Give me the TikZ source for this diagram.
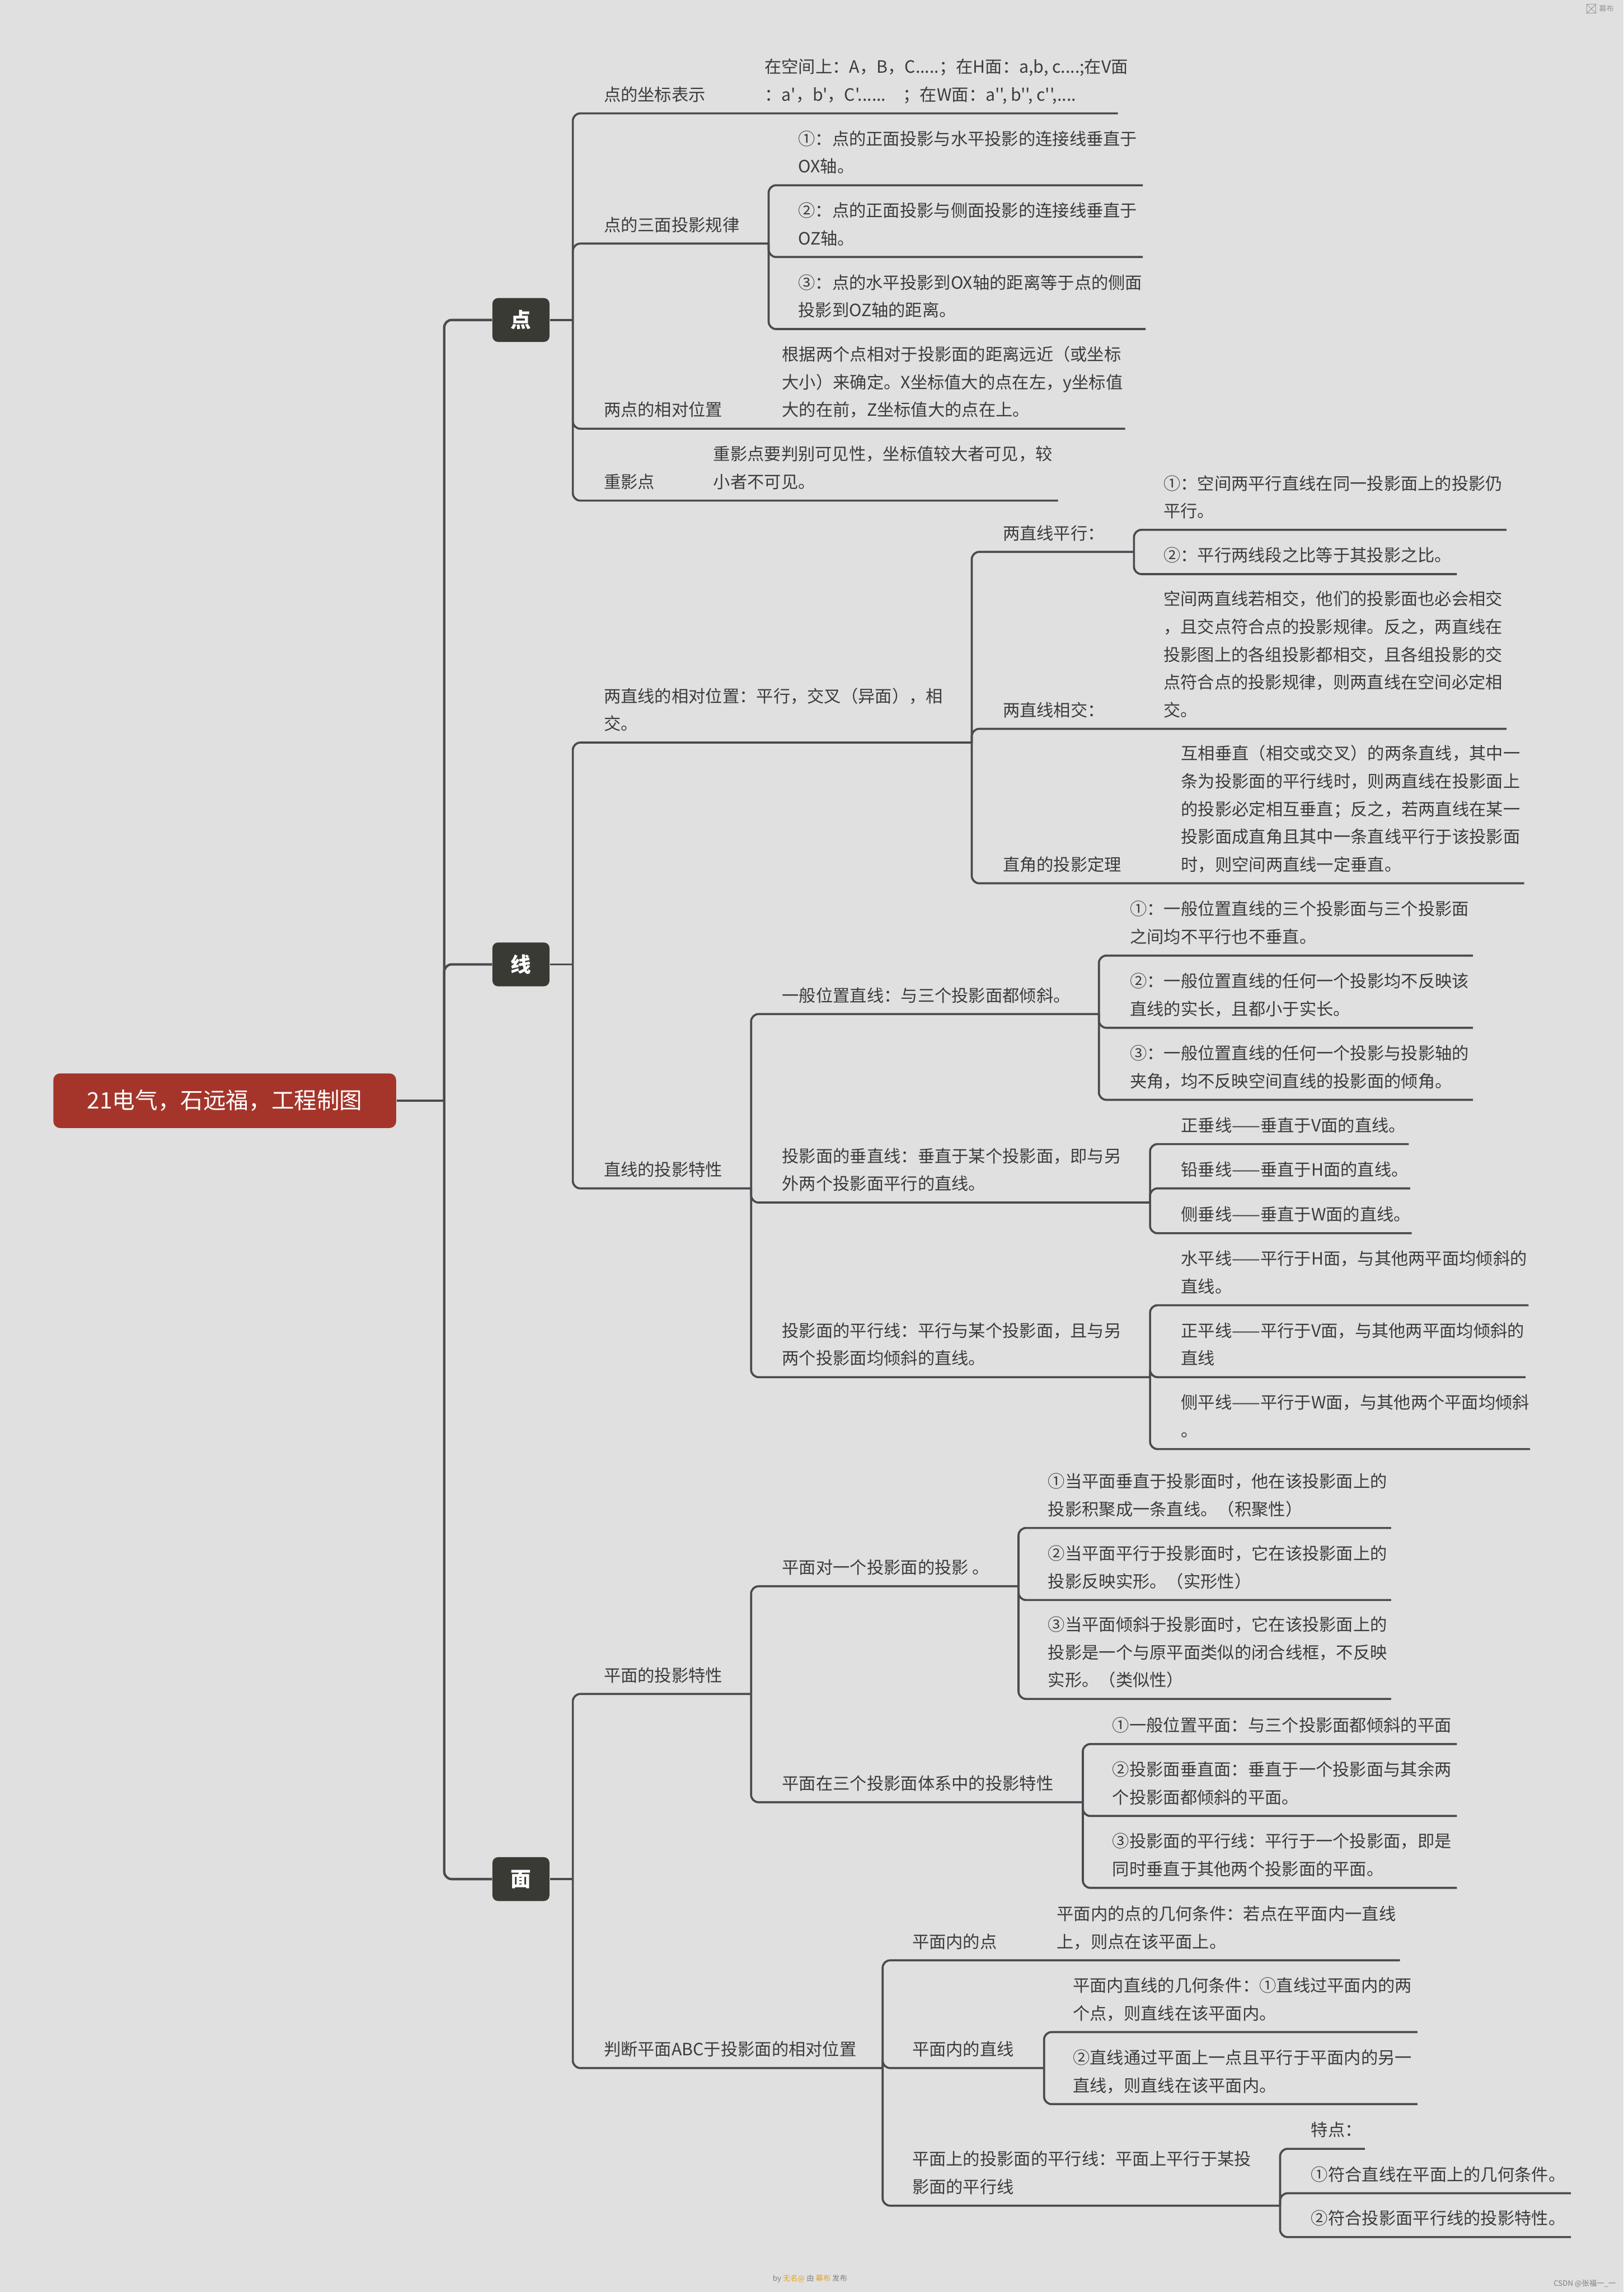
\documentclass[tikz,border=0pt]{standalone}
\usepackage{fontspec}
\newfontfamily\cjk{Noto Sans CJK SC}
\definecolor{bg}{HTML}{E0E0E0}
\definecolor{ln}{HTML}{4A4A4F}
\definecolor{tx}{HTML}{3C3C3C}
\definecolor{rootred}{HTML}{A5352A}
\definecolor{boxc}{HTML}{3A3A34}
\definecolor{orng}{HTML}{E8A317}
\newcommand\ml[1]{\vbox{\baselineskip=14.9pt\lineskiplimit=-20pt\halign{##\hfil\cr#1\crcr}}}
\tikzset{
  txt/.style={anchor=base west, inner sep=0pt, text=tx, font=\cjk\fontsize{9.1}{14.9}\selectfont},
  br/.style={draw=ln, line width=1.1pt, rounded corners=4pt},
  trunk/.style={draw=ln, line width=1.3pt, rounded corners=4pt},
  lone/.style={fill=boxc, rounded corners=3pt, text=white, inner sep=0pt,
    minimum width=1.076cm, minimum height=0.827cm, font=\cjk\bfseries\fontsize{11}{13}\selectfont},
  rootbox/.style={fill=rootred, rounded corners=3.6pt, text=white, inner sep=0pt,
    minimum width=6.468cm, minimum height=1.031cm, font=\cjk\fontsize{12.2}{14}\selectfont},
  tiny/.style={inner sep=0pt, text=gray, font=\cjk\fontsize{4}{5}\selectfont},
}
\begin{document}
\begin{tikzpicture}[x=0.02758cm, y=-0.02758cm]
\fill[bg] (0,0) rectangle (1111,1568.6);
\useasboundingbox (0,0) rectangle (1111,1568.6);

% root and level 1
\node[rootbox] (root) at (153.8,753.3) {21电气，石远福，工程制图};
\node[lone] (dian) at (356.5,219) {点};
\node[lone] (xian) at (356.5,660) {线};
\node[lone] (mian) at (356.5,1286) {面};
\coordinate (mt) at (304,753.3);
\draw[trunk] (root.east) -- (mt);
\draw[trunk] (mt) |- (dian.west);
\draw[trunk] (mt) |- (xian.west);
\draw[trunk] (mt) |- (mian.west);

%================ 点
\coordinate (dj) at (392,219);
\draw[br] (dian.east) -- (dj);
% A1
\node[txt] (a1) at (413,69.1) {点的坐标表示};
\node[txt] (a1t) at (523,69.1) {\ml{在空间上：A，B，C.....；在H面：a,b, c....;在V面\cr：a'，b'，C'......　；在W面：a'', b'', c'',....}};
\coordinate (a1e) at (765,77.6);
\draw[br] (dj) |- (a1e);
% A2
\node[txt] (a2) at (413,158.2) {点的三面投影规律};
\coordinate (a2e) at (526,166.7);
\draw[br] (dj) |- (a2e);
\node[txt] (a2a) at (546,118.3) {\ml{①：点的正面投影与水平投影的连接线垂直于\cr OX轴。}};
\coordinate (a2ae) at (782,126.8);
\node[txt] (a2b) at (546,167.4) {\ml{②：点的正面投影与侧面投影的连接线垂直于\cr OZ轴。}};
\coordinate (a2be) at (782,175.9);
\node[txt] (a2c) at (546,216.7) {\ml{③：点的水平投影到OX轴的距离等于点的侧面\cr 投影到OZ轴的距离。}};
\coordinate (a2ce) at (784,225.2);
\draw[br] (a2e) |- (a2ae);
\draw[br] (a2e) |- (a2be);
\draw[br] (a2e) |- (a2ce);
% A3
\node[txt] (a3) at (413,284.9) {两点的相对位置};
\node[txt] (a3t) at (535,284.9) {\ml{根据两个点相对于投影面的距离远近（或坐标\cr 大小）来确定。X坐标值大的点在左，y坐标值\cr 大的在前，Z坐标值大的点在上。}};
\coordinate (a3e) at (770,293.4);
\draw[br] (dj) |- (a3e);
% A4
\node[txt] (a4) at (413,334.1) {重影点};
\node[txt] (a4t) at (488,334.1) {\ml{重影点要判别可见性，坐标值较大者可见，较\cr 小者不可见。}};
\coordinate (a4e) at (724,342.6);
\draw[br] (dj) |- (a4e);

%================ 线
\coordinate (xj) at (392,660);
\draw[br] (xian.east) -- (xj);
% B1
\node[txt] (b1) at (413,499.7) {\ml{两直线的相对位置：平行，交叉（异面），相\cr 交。}};
\coordinate (b1e) at (665,508.2);
\draw[br] (xj) |- (b1e);
\node[txt] (b1a) at (686,369.2) {两直线平行：};
\coordinate (b1ae) at (776,377.7);
\draw[br] (b1e) |- (b1ae);
\node[txt] (b1a1) at (796,354.1) {\ml{①：空间两平行直线在同一投影面上的投影仍\cr 平行。}};
\coordinate (b1a1e) at (1031,362.6);
\node[txt] (b1a2) at (796,384.4) {②：平行两线段之比等于其投影之比。};
\coordinate (b1a2e) at (997,392.9);
\draw[br] (b1ae) |- (b1a1e);
\draw[br] (b1ae) |- (b1a2e);
\node[txt] (b1b) at (686,490.3) {两直线相交：};
\node[txt] (b1bt) at (796,490.3) {\ml{空间两直线若相交，他们的投影面也必会相交\cr ，且交点符合点的投影规律。反之，两直线在\cr 投影图上的各组投影都相交，且各组投影的交\cr 点符合点的投影规律，则两直线在空间必定相\cr 交。}};
\coordinate (b1be) at (1031,498.8);
\draw[br] (b1e) |- (b1be);
\node[txt] (b1c) at (686,596) {直角的投影定理};
\node[txt] (b1ct) at (808,596) {\ml{互相垂直（相交或交叉）的两条直线，其中一\cr 条为投影面的平行线时，则两直线在投影面上\cr 的投影必定相互垂直；反之，若两直线在某一\cr 投影面成直角且其中一条直线平行于该投影面\cr 时，则空间两直线一定垂直。}};
\coordinate (b1ce) at (1043,604.5);
\draw[br] (b1e) |- (b1ce);
% B2
\node[txt] (b2) at (413,804.8) {直线的投影特性};
\coordinate (b2e) at (514,813.3);
\draw[br] (xj) |- (b2e);
\node[txt] (b2a) at (535,685.5) {一般位置直线：与三个投影面都倾斜。};
\coordinate (b2ae) at (752,694);
\draw[br] (b2e) |- (b2ae);
\node[txt] (b2a1) at (773,645.5) {\ml{①：一般位置直线的三个投影面与三个投影面\cr 之间均不平行也不垂直。}};
\coordinate (b2a1e) at (1008,654);
\node[txt] (b2a2) at (773,694.9) {\ml{②：一般位置直线的任何一个投影均不反映该\cr 直线的实长，且都小于实长。}};
\coordinate (b2a2e) at (1008,703.4);
\node[txt] (b2a3) at (773,744.2) {\ml{③：一般位置直线的任何一个投影与投影轴的\cr 夹角，均不反映空间直线的投影面的倾角。}};
\coordinate (b2a3e) at (1008,752.7);
\draw[br] (b2ae) |- (b2a1e);
\draw[br] (b2ae) |- (b2a2e);
\draw[br] (b2ae) |- (b2a3e);
\node[txt] (b2b) at (535,814.5) {\ml{投影面的垂直线：垂直于某个投影面，即与另\cr 外两个投影面平行的直线。}};
\coordinate (b2be) at (787,823);
\draw[br] (b2e) |- (b2be);
\node[txt] (b2b1) at (808,774.5) {正垂线——垂直于V面的直线。};
\coordinate (b2b1e) at (964,783);
\node[txt] (b2b2) at (808,804.8) {铅垂线——垂直于H面的直线。};
\coordinate (b2b2e) at (965,813.3);
\node[txt] (b2b3) at (808,835.5) {侧垂线——垂直于W面的直线。};
\coordinate (b2b3e) at (966,844);
\draw[br] (b2be) |- (b2b1e);
\draw[br] (b2be) |- (b2b2e);
\draw[br] (b2be) |- (b2b3e);
\node[txt] (b2c) at (535,934) {\ml{投影面的平行线：平行与某个投影面，且与另\cr 两个投影面均倾斜的直线。}};
\coordinate (b2ce) at (787,942.5);
\draw[br] (b2e) |- (b2ce);
\node[txt] (b2c1) at (808,884.8) {\ml{水平线——平行于H面，与其他两平面均倾斜的\cr 直线。}};
\coordinate (b2c1e) at (1046,893.3);
\node[txt] (b2c2) at (808,934) {\ml{正平线——平行于V面，与其他两平面均倾斜的\cr 直线}};
\coordinate (b2c2e) at (1044,942.5);
\node[txt] (b2c3) at (808,983.2) {\ml{侧平线——平行于W面，与其他两个平面均倾斜\cr 。}};
\coordinate (b2c3e) at (1047,991.7);
\draw[br] (b2ce) |- (b2c1e);
\draw[br] (b2ce) |- (b2c2e);
\draw[br] (b2ce) |- (b2c3e);

%================ 面
\coordinate (mj) at (392,1286);
\draw[br] (mian.east) -- (mj);
% C1
\node[txt] (c1) at (413,1150.8) {平面的投影特性};
\coordinate (c1e) at (514,1159.3);
\draw[br] (mj) |- (c1e);
\node[txt] (c1a) at (535,1077.1) {平面对一个投影面的投影 。};
\coordinate (c1ae) at (697,1085.6);
\draw[br] (c1e) |- (c1ae);
\node[txt] (c1a1) at (717,1037.2) {\ml{①当平面垂直于投影面时，他在该投影面上的\cr 投影积聚成一条直线。（积聚性）}};
\coordinate (c1a1e) at (952,1045.7);
\node[txt] (c1a2) at (717,1086.5) {\ml{②当平面平行于投影面时，它在该投影面上的\cr 投影反映实形。（实形性）}};
\coordinate (c1a2e) at (952,1095);
\node[txt] (c1a3) at (717,1154.2) {\ml{③当平面倾斜于投影面时，它在该投影面上的\cr 投影是一个与原平面类似的闭合线框，不反映\cr 实形。（类似性）}};
\coordinate (c1a3e) at (952,1162.7);
\draw[br] (c1ae) |- (c1a1e);
\draw[br] (c1ae) |- (c1a2e);
\draw[br] (c1ae) |- (c1a3e);
\node[txt] (c1b) at (535,1224.9) {平面在三个投影面体系中的投影特性};
\coordinate (c1be) at (741,1233.4);
\draw[br] (c1e) |- (c1be);
\node[txt] (c1b1) at (761,1185.1) {①一般位置平面：与三个投影面都倾斜的平面};
\coordinate (c1b1e) at (997,1193.6);
\node[txt] (c1b2) at (761,1234.3) {\ml{②投影面垂直面：垂直于一个投影面与其余两\cr 个投影面都倾斜的平面。}};
\coordinate (c1b2e) at (997,1242.8);
\node[txt] (c1b3) at (761,1283.5) {\ml{③投影面的平行线：平行于一个投影面，即是\cr 同时垂直于其他两个投影面的平面。}};
\coordinate (c1b3e) at (997,1292);
\draw[br] (c1be) |- (c1b1e);
\draw[br] (c1be) |- (c1b2e);
\draw[br] (c1be) |- (c1b3e);
% C2
\node[txt] (c2) at (413,1406.8) {判断平面ABC于投影面的相对位置};
\coordinate (c2e) at (604,1415.3);
\draw[br] (mj) |- (c2e);
\node[txt] (c2a) at (624,1333.1) {平面内的点};
\node[txt] (c2at) at (723,1333.1) {\ml{平面内的点的几何条件：若点在平面内一直线\cr 上，则点在该平面上。}};
\coordinate (c2ae) at (958,1341.6);
\draw[br] (c2e) |- (c2ae);
\node[txt] (c2b) at (624,1406.8) {平面内的直线};
\coordinate (c2be) at (714.5,1415.3);
\draw[br] (c2e) |- (c2be);
\node[txt] (c2b1) at (734,1382.2) {\ml{平面内直线的几何条件：①直线过平面内的两\cr 个点，则直线在该平面内。}};
\coordinate (c2b1e) at (970,1390.7);
\node[txt] (c2b2) at (734,1431.5) {\ml{②直线通过平面上一点且平行于平面内的另一\cr 直线，则直线在该平面内。}};
\coordinate (c2b2e) at (970,1440);
\draw[br] (c2be) |- (c2b1e);
\draw[br] (c2be) |- (c2b2e);
\node[txt] (c2c) at (624,1501) {\ml{平面上的投影面的平行线：平面上平行于某投\cr 影面的平行线}};
\coordinate (c2ce) at (876,1509.5);
\draw[br] (c2e) |- (c2ce);
\node[txt] (c2c1) at (897,1462.1) {特点：};
\coordinate (c2c1e) at (934,1470.6);
\node[txt] (c2c2) at (897,1492.5) {①符合直线在平面上的几何条件。};
\coordinate (c2c2e) at (1075,1501);
\node[txt] (c2c3) at (897,1522.5) {②符合投影面平行线的投影特性。};
\coordinate (c2c3e) at (1075,1531);
\draw[br] (c2ce) |- (c2c1e);
\draw[br] (c2ce) |- (c2c2e);
\draw[br] (c2ce) |- (c2c3e);

% footer and corner marks
\node[tiny, anchor=base west] (foot) at (528.6,1561)
  {by \textcolor{orng}{无名@} 由 \textcolor{orng}{幕布} 发布};
\node[tiny, anchor=base east] (csdn) at (1106,1564.5) {CSDN @张福一\_一};
\node[draw=gray!80, line width=0.3pt, inner sep=0pt, minimum size=0.17cm] (logo) at (1089,6) {};
\draw[gray!80, line width=0.3pt] (logo.north west) -- (logo.south east) (logo.north east) -- (logo.south west);
\node[tiny, anchor=west, text=gray!80] (logotxt) at (1094,6) {幕布};
\end{tikzpicture}
\end{document}
